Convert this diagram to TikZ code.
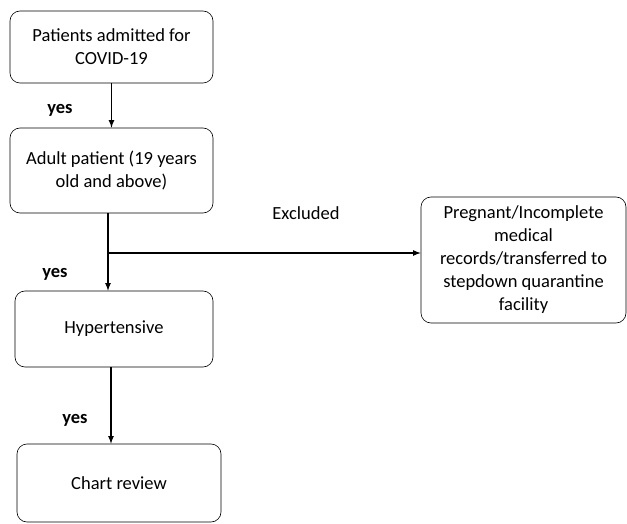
\documentclass[tikz,border=0pt]{standalone}
\usepackage{fontspec}
\setmainfont{Carlito}
\usetikzlibrary{arrows,positioning}

\tikzset{
	flowbox/.style={draw,semithick,rounded corners=10pt,align=center,inner sep=2pt,
		font=\fontsize{18.5}{23}\selectfont},
	arr/.style={-latex,line width=1.6pt},
	yeslabel/.style={font=\fontsize{18.5}{22}\selectfont\bfseries}
}

\begin{document}
\begin{tikzpicture}[x=1pt,y=-1pt]
		\useasboundingbox (0,0) rectangle (627,524);
		\node[flowbox,minimum width=203,minimum height=72] (admitted) at (111.5,47) {Patients admitted for\\COVID-19};
		\node[flowbox,minimum width=203,minimum height=85] (adult) at (111.5,170.5) {Adult patient (19 years\\old and above)};
		\node[flowbox,minimum width=198,minimum height=76] (hyper) at (114,329) {Hypertensive};
		\node[flowbox,minimum width=204,minimum height=78] (chart) at (119,483) {Chart review};
		\node[flowbox,minimum width=205,minimum height=126] (excl) at (523.5,260) {Pregnant/Incomplete\\medical\\records/transferred to\\stepdown quarantine\\facility};
		\coordinate (split) at (108,253);
		\draw[arr] (admitted.south) -- (adult.north);
		\draw[arr] ([xshift=-3.5]adult.south) -- ([xshift=-6]hyper.north);
		\draw[arr] (split) -- (split -| excl.west);
		\draw[arr] ([xshift=-3]hyper.south) -- ([xshift=-8]chart.north);
		\node[yeslabel] (yes1) at (60,110) {yes};
		\node[yeslabel] (yes2) at (55,274) {yes};
		\node[yeslabel] (yes3) at (75,420) {yes};
		\node[font=\fontsize{18.5}{22}\selectfont] (exclabel) at (306,213) {Excluded};
	\end{tikzpicture}
\end{document}
